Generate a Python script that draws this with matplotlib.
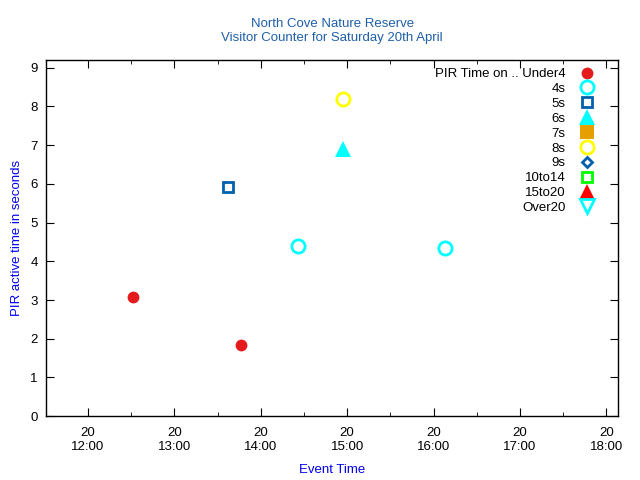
import pandas as pd
import matplotlib.pyplot as plt
import matplotlib.dates as mdates

plt.rcParams['font.family'] = ['Liberation Sans', 'DejaVu Sans']

day = '2019-04-20 '

# series: label, times, values
under4_t = ['12:31', '13:46']
under4_v = [3.07, 1.84]
s4_t = ['14:26', '16:08']
s4_v = [4.39, 4.34]
s5_t = ['13:37']
s5_v = [5.92]
s6_t = ['14:57']
s6_v = [6.90]
s7_t = []
s7_v = []
s8_t = ['14:57']
s8_v = [8.20]
s9_t = []
s9_v = []
s10_t = []
s10_v = []
s15_t = []
s15_v = []
over20_t = []
over20_v = []

series = [
    ('PIR Time on .. Under4', under4_t, under4_v, 'o', '#e41a1c', True, 8.5),
    ('4s', s4_t, s4_v, 'o', '#00ffff', False, 9.5),
    ('5s', s5_t, s5_v, 's', '#0060ad', False, 7.5),
    ('6s', s6_t, s6_v, '^', '#00ffff', True, 12),
    ('7s', s7_t, s7_v, 's', '#e69f00', True, 10),
    ('8s', s8_t, s8_v, 'o', '#ffff00', False, 9.5),
    ('9s', s9_t, s9_v, 'D', '#0060ad', False, 5.5),
    ('10to14', s10_t, s10_v, 's', '#00ff00', False, 7.5),
    ('15to20', s15_t, s15_v, '^', '#ff0000', True, 12),
    ('Over20', over20_t, over20_v, 'v', '#00ffff', False, 10.5),
]

fig, ax = plt.subplots(figsize=(6.4, 4.8), dpi=100)
fig.subplots_adjust(left=0.072, right=0.966, top=0.875, bottom=0.133)

for label, t, v, m, c, filled, ms in series:
    x = pd.to_datetime([day + s for s in t]) if t else pd.to_datetime([])
    ax.plot(x, v, linestyle='none', marker=m, markersize=ms, label=label,
            markerfacecolor=c if filled else 'none', markeredgecolor=c,
            markeredgewidth=0 if filled else 2.0)

ax.set_xlim(pd.Timestamp(day + '11:30:50'), pd.Timestamp(day + '18:08:20'))
ax.set_ylim(0, 9.2)
ax.set_yticks(range(0, 10))
ax.xaxis.set_major_locator(mdates.HourLocator())
ax.xaxis.set_minor_locator(mdates.MinuteLocator(byminute=[30]))
ax.xaxis.set_major_formatter(mdates.DateFormatter('%d\n%H:%M'))

ax.tick_params(which='both', direction='in', top=True, right=True,
               labelsize=9.5, colors='black', pad=6)
ax.tick_params(which='major', length=6)
ax.tick_params(which='minor', length=3)
ax.tick_params(axis='x', pad=8)
for sp in ax.spines.values():
    sp.set_linewidth(1.0)

ax.set_title('North Cove Nature Reserve\nVisitor Counter for Saturday 20th April',
             fontsize=9.5, color='#1f5fa8', pad=14)
ax.set_xlabel('Event Time', color='#0000ee', fontsize=9.5, labelpad=8)
ax.set_ylabel('PIR active time in seconds', color='#0000ee', fontsize=9.5, labelpad=5)

ax.legend(loc='upper right', bbox_to_anchor=(0.977, 1.0), markerfirst=False,
          frameon=False, fontsize=9.5, handlelength=1.5, handletextpad=0.9,
          labelspacing=0.2, borderaxespad=0.2, numpoints=1)
for txt in ax.get_legend().get_texts():
    txt.set_ha('right')
ax.get_legend()._legend_box.align = 'right'

fig.savefig('out.png', dpi=100)
